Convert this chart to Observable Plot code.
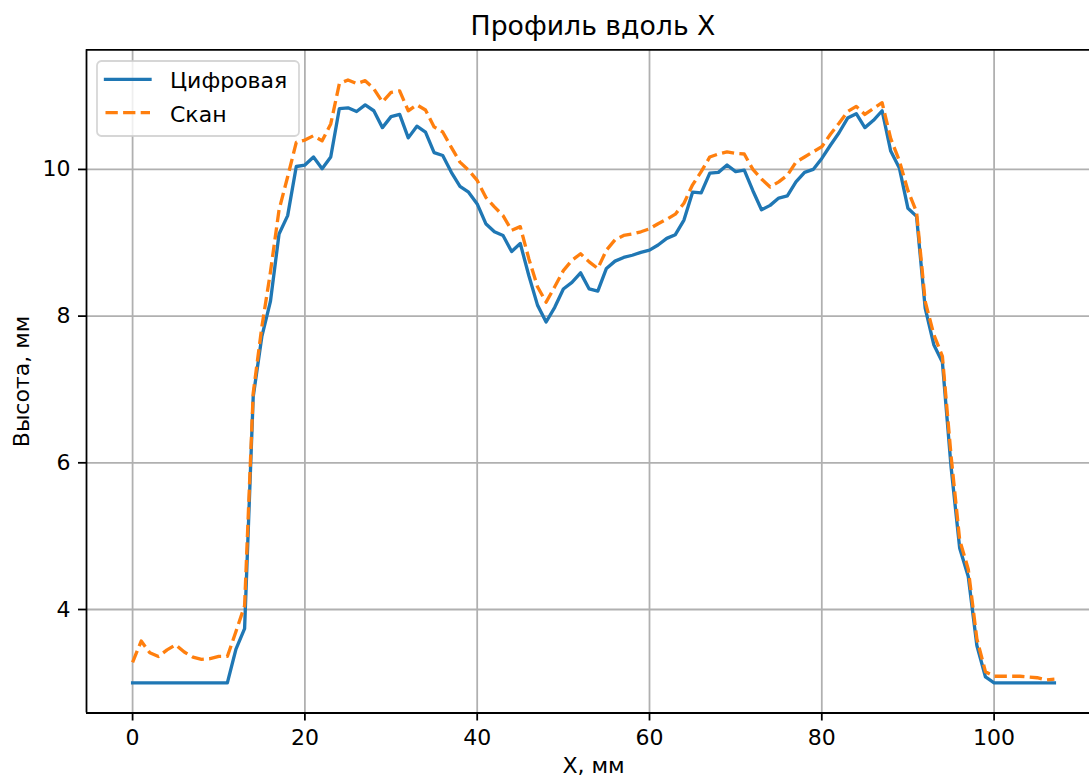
<!DOCTYPE html>
<html>
<head>
<meta charset="utf-8">
<script src="https://cdn.jsdelivr.net/npm/d3@7"></script>
<script src="https://cdn.jsdelivr.net/npm/@observablehq/plot@0.6"></script>
<style>
html, body { margin: 0; padding: 0; background: #fff; overflow: hidden; }
body { font-family: "DejaVu Sans", sans-serif; }
#wrap { position: relative; width: 1089px; height: 778px; overflow: hidden; background: #fff; }
#title { height: 40px; box-sizing: border-box; width: 1100px; padding-left: 86px; padding-top: 13.4px;
  text-align: center; font-size: 26.7px; line-height: 1; color: #000; white-space: nowrap; }
#legend { position: absolute; left: 96px; top: 60px; }
</style>
</head>
<body>
<div id="wrap">
  <div id="title">Профиль вдоль X</div>
  <div id="chart"></div>
  <svg id="legend" width="204" height="77" xmlns="http://www.w3.org/2000/svg"></svg>
</div>
<script>
// ---- data ----
const xMm = [0,1,2,3,4,5,6,7,8,9,10,11,12,13,14,15,16,17,18,19,20,21,22,23,24,25,26,27,28,29,30,31,32,33,34,35,36,37,38,39,40,41,42,43,44,45,46,47,48,49,50,51,52,53,54,55,56,57,58,59,60,61,62,63,64,65,66,67,68,69,70,71,72,73,74,75,76,77,78,79,80,81,82,83,84,85,86,87,88,89,90,91,92,93,94,95,96,97,98,99,100,101,102,103,104,105,106,107];

const digital = [3.0,3.0,3.0,3.0,3.0,3.0,3.0,3.0,3.0,3.0,3.0,3.0,3.46,3.74,6.9,7.72,8.2,9.12,9.37,10.04,
  10.06,10.17,10.01,10.17,10.83,10.84,10.79,10.88,10.80,10.57,10.72,10.75,10.43,10.59,10.51,10.23,10.19,9.96,9.77,9.69,
  9.53,9.26,9.15,9.10,8.88,8.99,8.55,8.15,7.92,8.12,8.37,8.46,8.59,8.37,8.34,8.65,8.75,8.80,8.83,8.87,
  8.90,8.97,9.06,9.11,9.31,9.69,9.68,9.95,9.96,10.06,9.97,9.99,9.71,9.45,9.51,9.61,9.64,9.83,9.96,10.0,
  10.15,10.33,10.50,10.70,10.76,10.57,10.67,10.80,10.25,10.02,9.47,9.36,8.11,7.61,7.37,5.95,4.84,4.45,3.51,3.08,
  3.0,3.0,3.0,3.0,3.0,3.0,3.0,3.0];

const scan = [3.28,3.57,3.41,3.36,3.45,3.52,3.42,3.35,3.32,3.33,3.36,3.36,3.7,4.05,6.95,7.85,8.6,9.45,9.9,10.37,
  10.40,10.46,10.39,10.62,11.17,11.22,11.17,11.21,11.10,10.92,11.05,11.07,10.80,10.88,10.81,10.58,10.51,10.30,10.10,9.99,
  9.85,9.62,9.49,9.37,9.17,9.22,8.78,8.40,8.19,8.40,8.62,8.76,8.85,8.74,8.65,8.90,9.04,9.10,9.12,9.15,
  9.19,9.26,9.32,9.39,9.54,9.79,9.97,10.17,10.21,10.24,10.22,10.21,10.0,9.87,9.76,9.83,9.92,10.10,10.17,10.24,
  10.31,10.48,10.63,10.79,10.86,10.75,10.83,10.91,10.42,10.12,9.71,9.42,8.2,7.75,7.45,6.1,4.95,4.55,3.6,3.15,
  3.09,3.09,3.09,3.09,3.08,3.07,3.04,3.05];

const seriesNames = ["Цифровая", "Скан"];
const xTicks = [0, 20, 40, 60, 80, 100];
const yTicks = [4, 6, 8, 10];
const xDomain = [-5.35, 112.35];
const yDomain = [2.589, 11.631];

// ---- styles ----
const C_BLUE = "#1f77b4", C_ORANGE = "#ff7f0e";
const LW = 3.33, GW = 1.78;
const DASH = "12.3,5.3";

const rows = xMm.map((x, i) => ({x, digital: digital[i], scan: scan[i]}));

const chart = Plot.plot({
  width: 1100,
  height: 738,
  marginLeft: 86,
  marginRight: 0,
  marginTop: 9.3,
  marginBottom: 65.5,
  style: {fontFamily: "DejaVu Sans", fontSize: "22px", maxWidth: "none", background: "white", color: "black"},
  x: {domain: xDomain},
  y: {domain: yDomain},
  marks: [
    Plot.gridX(xTicks, {stroke: "#b0b0b0", strokeOpacity: 1, strokeWidth: GW}),
    Plot.gridY(yTicks, {stroke: "#b0b0b0", strokeOpacity: 1, strokeWidth: GW}),
    Plot.line(rows, {x: "x", y: "digital", stroke: C_BLUE, strokeWidth: LW, strokeLinejoin: "round", strokeLinecap: "square"}),
    Plot.line(rows, {x: "x", y: "scan", stroke: C_ORANGE, strokeWidth: LW, strokeDasharray: DASH, strokeLinejoin: "round", strokeLinecap: "butt"}),
    Plot.ruleY([yDomain[0]], {stroke: "black", strokeWidth: GW}),
    Plot.ruleY([yDomain[1]], {stroke: "black", strokeWidth: GW}),
    Plot.ruleX([xDomain[0]], {stroke: "black", strokeWidth: GW}),
    Plot.axisX({ticks: xTicks, tickSize: 8, tickPadding: 8, strokeWidth: GW, fontSize: 22,
      label: "X, мм", labelAnchor: "center", labelOffset: 60, labelArrow: "none"}),
    Plot.axisY({ticks: yTicks, tickSize: 8, tickPadding: 8, strokeWidth: GW, fontSize: 22,
      label: "Высота, мм", labelAnchor: "center", labelOffset: 73, labelArrow: "none"})
  ]
});
document.getElementById("chart").appendChild(chart);

// ---- legend (drawn inside the axes, upper left) ----
const leg = d3.select("#legend");
leg.append("rect").attr("x", 1).attr("y", 1).attr("width", 202).attr("height", 75)
  .attr("rx", 4.4).attr("fill", "rgba(255,255,255,0.8)")
  .attr("stroke", "rgba(204,204,204,0.8)").attr("stroke-width", GW);
const entries = [
  {name: seriesNames[0], color: C_BLUE, dash: null},
  {name: seriesNames[1], color: C_ORANGE, dash: DASH}
];
entries.forEach((e, i) => {
  const cy = 19.3 + i * 33.4;
  const ln = leg.append("line").attr("x1", 9.5).attr("x2", 54).attr("y1", cy).attr("y2", cy)
    .attr("stroke", e.color).attr("stroke-width", LW);
  if (e.dash) ln.attr("stroke-dasharray", e.dash); else ln.attr("stroke-linecap", "square");
  leg.append("text").attr("x", 74).attr("y", cy + 9)
    .attr("font-family", "DejaVu Sans").attr("font-size", 22).attr("fill", "#000").text(e.name);
});
</script>
</body>
</html>
